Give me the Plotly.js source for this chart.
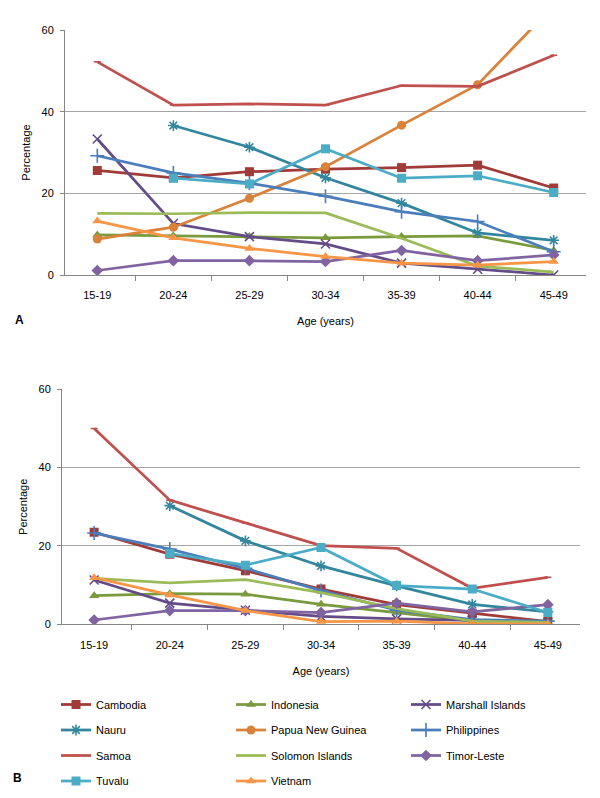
<!DOCTYPE html>
<html>
<head>
<meta charset="utf-8">
<script src="https://cdn.plot.ly/plotly-3.0.1.min.js"></script>
<style>
  html, body { margin: 0; padding: 0; background: #fff; }
  #plot { width: 600px; height: 798px; }
</style>
</head>
<body>
<div id="plot"></div>
<script>
// age groups on the x axis
var ages = ['15-19', '20-24', '25-29', '30-34', '35-39', '40-44', '45-49'];

// panel A values (%)
var cambodiaA    = [25.6, 23.8, 25.3, 25.9, 26.3, 26.9, 21.3];
var indonesiaA   = [9.8, 9.6, 9.4, 9.1, 9.4, 9.6, 6.0];
var marshallA    = [33.3, 12.6, 9.4, 7.6, 2.9, 1.4, 0.0];
var nauruA       = [null, 36.6, 31.3, 23.8, 17.6, 10.3, 8.5];
var pngA         = [8.8, 11.7, 18.8, 26.5, 36.7, 46.6, 66.0];
var philippinesA = [29.2, 25.0, 22.5, 19.3, 15.5, 13.1, 5.7];
var samoaA       = [52.2, 41.6, 41.9, 41.6, 46.4, 46.2, 53.8];
var solomonA     = [15.1, 15.0, 15.3, 15.2, 9.0, 2.2, 0.7];
var timorA       = [1.1, 3.5, 3.5, 3.3, 6.0, 3.5, 4.9];
var tuvaluA      = [null, 23.7, 22.3, 30.9, 23.7, 24.3, 20.2];
var vietnamA     = [13.2, 9.1, 6.5, 4.5, 2.9, 2.4, 3.3];

// panel B values (%)
var cambodiaB    = [23.5, 17.9, 13.7, 9.0, 5.0, 2.8, 0.7];
var indonesiaB   = [7.3, 7.8, 7.7, 5.1, 3.0, 0.8, 0.3];
var marshallB    = [11.3, 5.4, 3.6, 2.0, 1.4, 1.0, 0.4];
var nauruB       = [null, 30.3, 21.3, 14.9, 9.8, 5.1, 3.2];
var philippinesB = [23.3, 19.2, 14.3, 8.6, 3.6, 1.2, 0.8];
var samoaB       = [50.0, 31.7, 25.9, 20.1, 19.4, 9.2, 12.0];
var solomonB     = [11.7, 10.6, 11.4, 8.1, 4.0, 0.8, 0.5];
var timorB       = [1.1, 3.5, 3.5, 3.0, 5.4, 3.2, 5.0];
var tuvaluB      = [null, 18.1, 15.1, 19.6, 9.9, 9.0, 3.0];
var vietnamB     = [11.9, 7.5, 3.5, 0.7, 0.8, 0.1, 0.1];

var FONT = 'Liberation Sans, Arial, sans-serif';

// name, panel A, panel B, colour, marker symbol, marker size, legend column
var series = [
    {name: 'Cambodia', a: cambodiaA, b: cambodiaB, color: '#A13B38', symbol: 'square', size: 9, leg: 'legend'},
    {name: 'Indonesia', a: indonesiaA, b: indonesiaB, color: '#7A9A3E', symbol: 'triangle-up', size: 9, leg: 'legend2'},
    {name: 'Marshall Islands', a: marshallA, b: marshallB, color: '#634C88', symbol: 'x-thin-open', size: 9, leg: 'legend3'},
    {name: 'Nauru', a: nauruA, b: nauruB, color: '#32879E', symbol: 'asterisk-open', size: 9, leg: 'legend'},
    {name: 'Papua New Guinea', a: pngA, b: null, color: '#D9823A', symbol: 'circle', size: 9, leg: 'legend2'},
    {name: 'Philippines', a: philippinesA, b: philippinesB, color: '#4A7EBB', symbol: 'cross-thin-open', size: 10, leg: 'legend3'},
    {name: 'Samoa', a: samoaA, b: samoaB, color: '#C0504D', symbol: 'line-ew-open', size: 5, leg: 'legend'},
    {name: 'Solomon Islands', a: solomonA, b: solomonB, color: '#9BBB59', symbol: null, size: 0, leg: 'legend2'},
    {name: 'Timor-Leste', a: timorA, b: timorB, color: '#8064A2', symbol: 'diamond', size: 9, leg: 'legend3'},
    {name: 'Tuvalu', a: tuvaluA, b: tuvaluB, color: '#4BACC6', symbol: 'square', size: 9, leg: 'legend'},
    {name: 'Vietnam', a: vietnamA, b: vietnamB, color: '#F79646', symbol: 'triangle-up', size: 9, leg: 'legend2'}
];

function makeTrace(s, values, xa, ya, showLeg) {
    var t = {
        x: ages,
        y: values,
        xaxis: xa,
        yaxis: ya,
        name: s.name,
        legend: s.leg,
        legendgroup: s.name,
        showlegend: showLeg,
        type: 'scatter',
        mode: s.symbol ? 'lines+markers' : 'lines',
        connectgaps: false,
        line: {color: s.color, width: 2.75}
    };
    if (s.symbol) {
        var open = s.symbol.indexOf('open') >= 0;
        t.marker = {
            symbol: s.symbol,
            size: s.size,
            color: s.color,
            line: {color: s.color, width: open ? 1.6 : 0}
        };
    }
    return t;
}

var data = [];
series.forEach(function (s) {
    data.push(makeTrace(s, s.a, 'x', 'y', true));
});
series.forEach(function (s) {
    if (s.b) data.push(makeTrace(s, s.b, 'x2', 'y2', false));
});

function xAxis(domain, anchor) {
    return {
        domain: domain,
        anchor: anchor,
        type: 'category',
        showline: true,
        linecolor: '#868686',
        linewidth: 1,
        ticks: 'outside',
        tickson: 'boundaries',
        ticklen: 5,
        tickcolor: '#868686',
        ticklabelstandoff: 10,
        showgrid: false,
        tickfont: {family: FONT, size: 11, color: '#000'},
        title: {text: 'Age (years)', font: {family: FONT, size: 11, color: '#000'}, standoff: 17},
        fixedrange: true
    };
}

function yAxis(domain, anchor) {
    return {
        domain: domain,
        anchor: anchor,
        range: [0, 60],
        dtick: 20,
        showline: true,
        linecolor: '#868686',
        linewidth: 1,
        ticks: 'outside',
        ticklen: 4,
        tickcolor: '#868686',
        showgrid: true,
        gridcolor: '#A6A6A6',
        gridwidth: 1,
        zeroline: false,
        ticklabelstandoff: 4,
        tickfont: {family: FONT, size: 11, color: '#000'},
        title: {text: 'Percentage', font: {family: FONT, size: 11, color: '#000'}, standoff: 8},
        fixedrange: true
    };
}

function legendBox(px) {
    return {
        x: px / 600,
        xanchor: 'left',
        y: 1 - 690 / 798,
        yanchor: 'top',
        orientation: 'v',
        traceorder: 'grouped',
        tracegroupgap: 6.5,
        bgcolor: 'rgba(0,0,0,0)',
        font: {family: FONT, size: 11, color: '#000'}
    };
}

var layout = {
    width: 600,
    height: 798,
    margin: {l: 0, r: 0, t: 0, b: 0},
    paper_bgcolor: '#fff',
    plot_bgcolor: '#fff',
    font: {family: FONT, size: 11, color: '#000'},
    xaxis: xAxis([65 / 600, 586 / 600], 'y'),
    yaxis: yAxis([1 - 275 / 798, 1 - 30 / 798], 'x'),
    xaxis2: xAxis([62 / 600, 580 / 600], 'y2'),
    yaxis2: yAxis([1 - 624.3 / 798, 1 - 389.3 / 798], 'x2'),
    legend: legendBox(56),
    legend2: legendBox(231),
    legend3: legendBox(406),
    annotations: [
        {text: '<b>A</b>', xref: 'paper', yref: 'paper', x: 19 / 600, y: 1 - 320 / 798,
         xanchor: 'center', yanchor: 'middle',
         showarrow: false, font: {family: FONT, size: 12, color: '#000'}},
        {text: '<b>B</b>', xref: 'paper', yref: 'paper', x: 17 / 600, y: 1 - 778 / 798,
         xanchor: 'center', yanchor: 'middle',
         showarrow: false, font: {family: FONT, size: 12, color: '#000'}}
    ]
};

Plotly.newPlot('plot', data, layout, {displayModeBar: false, staticPlot: true});
</script>
</body>
</html>
